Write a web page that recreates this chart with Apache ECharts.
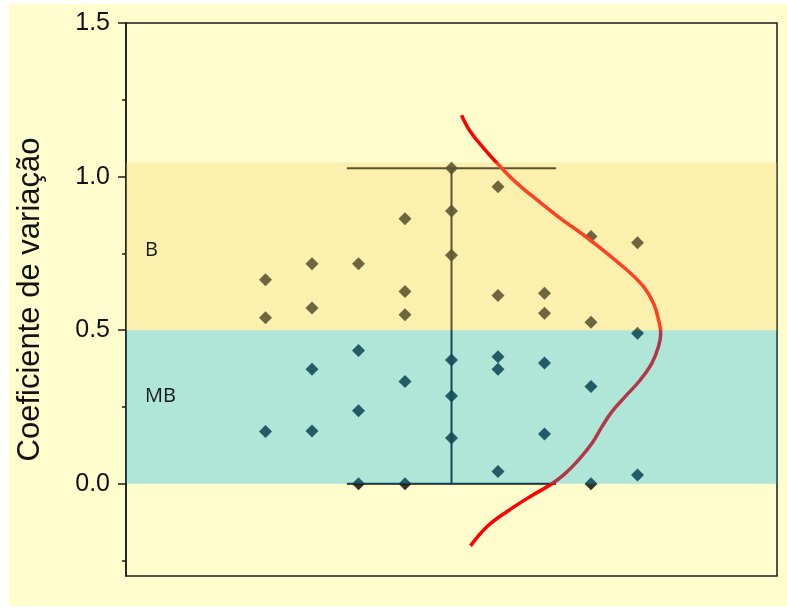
<!DOCTYPE html>
<html><head><meta charset="utf-8">
<script src="https://cdn.jsdelivr.net/npm/echarts@6/dist/echarts.min.js"></script>
<style>
html,body{margin:0;padding:0;background:#ffffff;width:787px;height:607px;overflow:hidden}
#c{position:absolute;left:9px;top:4px;width:778px;height:602px;background:#fffccd}
</style>
</head><body><div id="c"></div>
<script>
// ---- data ----
const yTickLabels = [0, 0.5, 1.0, 1.5];
const yMinorTicks = [-0.25, 0.25, 0.75, 1.25];
const yAxisTitle = 'Coeficiente de variação';

const columnX = [3, 4, 5, 6, 7, 8, 9, 10, 11];
const group1 = [0.664, 0.541, 0.170];
const group2 = [0.716, 0.572, 0.373, 0.172];
const group3 = [0.716, 0.434, 0.238, 0.0];
const group4 = [0.863, 0.626, 0.550, 0.333, 0.0];
const group5 = [1.027, 0.888, 0.744, 0.403, 0.286, 0.149];
const group6 = [0.967, 0.613, 0.414, 0.373, 0.040];
const group7 = [0.620, 0.555, 0.393, 0.162];
const group8 = [0.805, 0.526, 0.317, 0.0];
const group9 = [0.785, 0.490, 0.029];

const bandNames = ['MB', 'B'];
const bandLow = [0, 0.5];
const bandHigh = [0.5, 1.046];

const whiskerCenter = 7;
const whiskerMin = 0;
const whiskerMax = 1.027;

const curveX = [7.215, 7.408, 7.694, 8.052, 8.411, 8.840, 9.341, 9.841, 10.344, 10.773, 11.130, 11.344, 11.452, 11.499, 11.452, 11.310, 11.059, 10.736, 10.451, 10.236, 10.021, 9.734, 9.412, 9.126, 8.697, 8.196, 7.767, 7.408];
const curveY = [1.200, 1.146, 1.092, 1.032, 0.978, 0.924, 0.864, 0.810, 0.750, 0.696, 0.642, 0.588, 0.534, 0.490, 0.447, 0.393, 0.338, 0.284, 0.235, 0.186, 0.132, 0.078, 0.029, -0.003, -0.041, -0.090, -0.139, -0.202];

// ---- build ----
const groups = [group1, group2, group3, group4, group5, group6, group7, group8, group9];
const scatterData = [];
groups.forEach((g, i) => g.forEach(v => scatterData.push([columnX[i], v])));
const curveData = curveX.map((x, i) => [x, curveY[i]]);
const bandData = bandLow.map((lo, i) => [lo, bandHigh[i], i]);

const bandFill = ['rgba(0,181,238,0.31)', 'rgba(245,213,109,0.31)'];
const bandLabelValue = [0.285, 0.761];
const capHalf = 2.25;

const chart = echarts.init(document.getElementById('c'), null, {renderer: 'canvas'});
chart.setOption({
  animation: false,
  grid: {left: 117, right: 10, top: 19, bottom: 30, show: true, borderColor: '#1a1a1a', borderWidth: 1.5,
         backgroundColor: '#fffccd', outerBoundsMode: 'none', containLabel: false},
  xAxis: {type: 'value', min: 0, max: 14, show: false},
  yAxis: [
    {type: 'value', min: -0.3, max: 1.5, position: 'left',
     axisLine: {show: true, lineStyle: {color: '#1a1a1a', width: 1.5}},
     axisTick: {show: true, customValues: yTickLabels, length: 8, lineStyle: {color: '#1a1a1a', width: 1.5}},
     axisLabel: {show: true, customValues: yTickLabels, formatter: v => Number(v).toFixed(1), fontSize: 25,
                 fontFamily: 'Liberation Sans', color: '#111', margin: 16},
     splitLine: {show: false},
     name: yAxisTitle, nameLocation: 'middle', nameGap: 80,
     nameTextStyle: {fontSize: 31, fontFamily: 'Liberation Sans', color: '#111'}},
    {type: 'value', min: -0.3, max: 1.5, position: 'left',
     axisLine: {show: false},
     axisTick: {show: true, customValues: yMinorTicks, length: 4, lineStyle: {color: '#1a1a1a', width: 1.5}},
     axisLabel: {show: false}, splitLine: {show: false}}
  ],
  series: [
    {type: 'scatter', yAxisIndex: 0, data: scatterData, symbol: 'diamond', symbolSize: 13,
     itemStyle: {color: '#000'}, z: 2},
    {type: 'custom', yAxisIndex: 0, data: [[whiskerCenter, whiskerMin, whiskerMax]], z: 3,
     encode: {x: 0, y: [1, 2]},
     renderItem: (params, api) => {
       const x = api.value(0), lo = api.value(1), hi = api.value(2);
       const pLo = api.coord([x, lo]), pHi = api.coord([x, hi]);
       const l = api.coord([x - capHalf, lo])[0], r = api.coord([x + capHalf, lo])[0];
       const st = {stroke: '#1a1a1a', lineWidth: 2};
       return {type: 'group', children: [
         {type: 'line', shape: {x1: pLo[0], y1: pLo[1], x2: pHi[0], y2: pHi[1]}, style: st},
         {type: 'line', shape: {x1: l, y1: pHi[1], x2: r, y2: pHi[1]}, style: st},
         {type: 'line', shape: {x1: l, y1: pLo[1], x2: r, y2: pLo[1]}, style: st}
       ]};
     }},
    {type: 'line', yAxisIndex: 0, data: curveData, smooth: 0.4, showSymbol: false, symbol: 'none',
     lineStyle: {color: '#ff0000', width: 3.5}, z: 3},
    {type: 'custom', yAxisIndex: 0, data: bandData, z: 10, clip: true,
     encode: {y: [0, 1]},
     renderItem: (params, api) => {
       const lo = api.value(0), hi = api.value(1), idx = api.value(2);
       const cs = params.coordSys;
       const yTop = api.coord([0, hi])[1], yBot = api.coord([0, lo])[1];
       const yLab = api.coord([0, bandLabelValue[idx]])[1];
       return {type: 'group', children: [
         {type: 'rect', shape: {x: cs.x, y: yTop, width: cs.width, height: yBot - yTop},
          style: {fill: bandFill[idx]}},
         {type: 'text', style: {text: bandNames[idx], x: cs.x + 19, y: yLab, fill: '#1a1a1a',
          fontSize: 20, fontFamily: 'Open Sans', verticalAlign: 'middle', align: 'left'}}
       ]};
     }}
  ]
});
</script></body></html>
